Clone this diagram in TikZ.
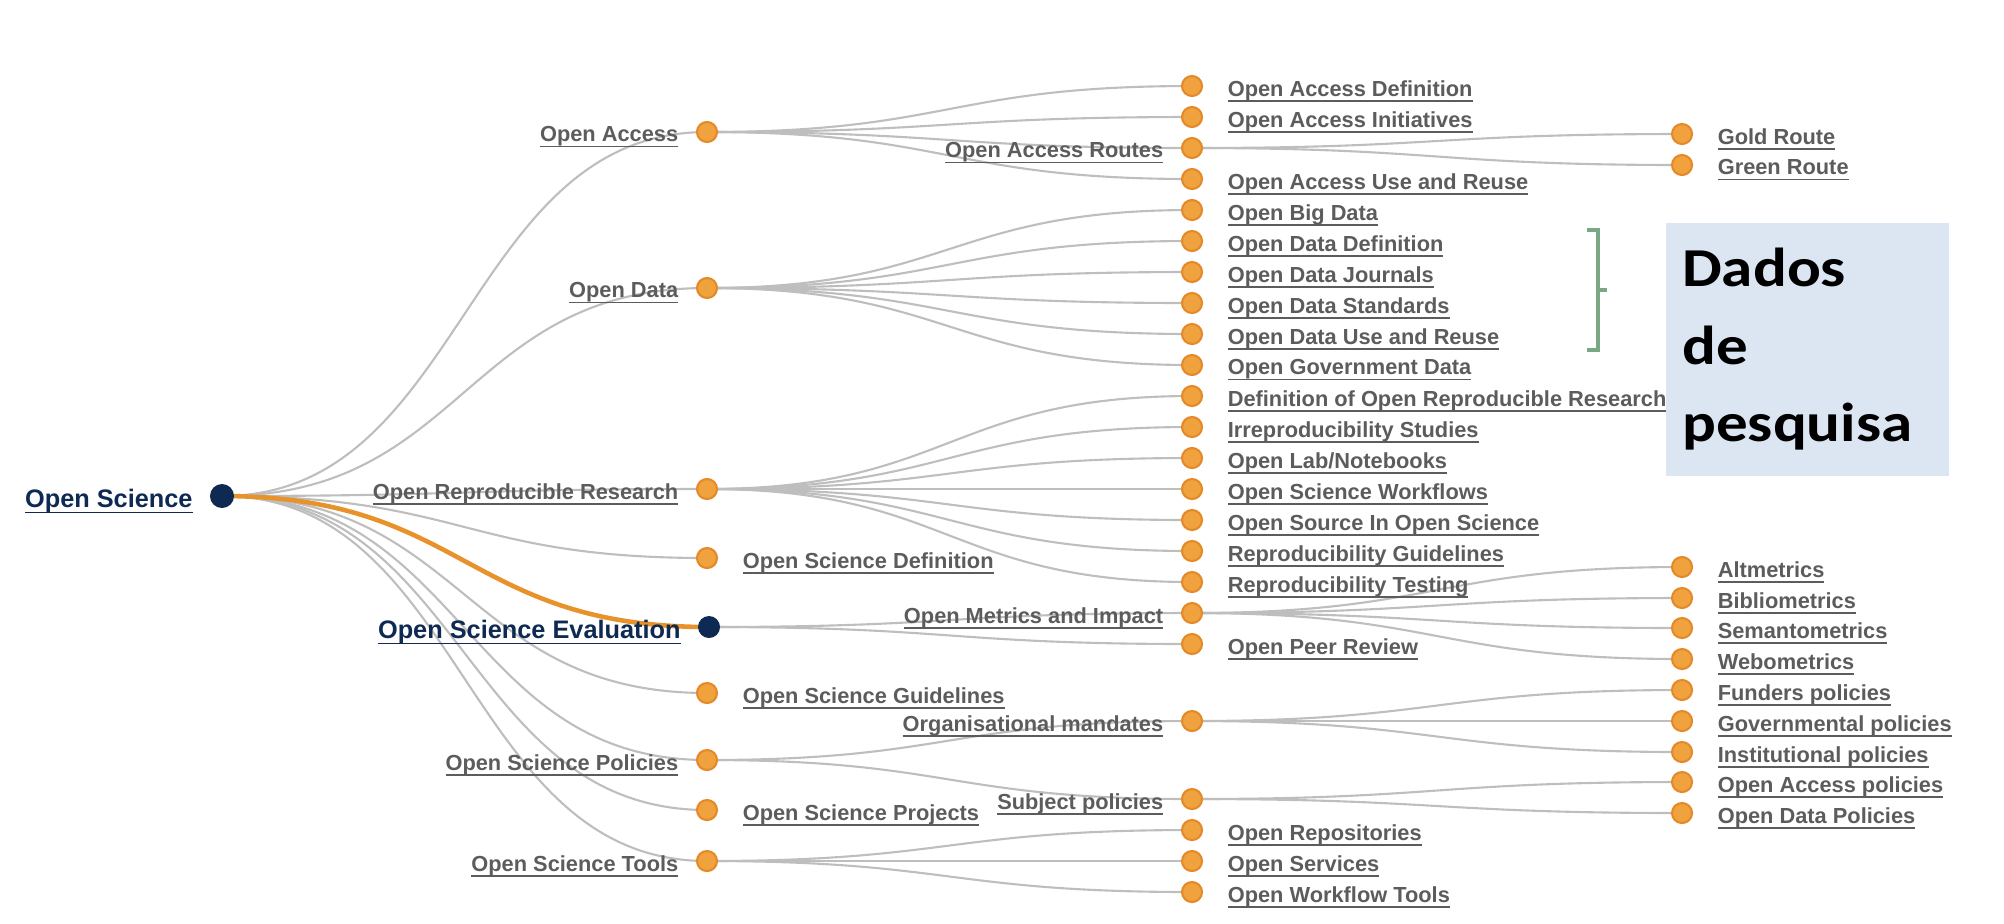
\documentclass[tikz,border=0pt]{standalone}
\usepackage{fontspec}
\setmainfont{Liberation Sans}
\newfontfamily\boxfont{Carlito}[FakeStretch=1.15]
\usetikzlibrary{calc,backgrounds}

\definecolor{navy}{RGB}{14,42,82}
\definecolor{nodeorange}{RGB}{240,162,62}
\definecolor{nodeedge}{RGB}{228,138,40}
\definecolor{linkgray}{RGB}{190,190,190}
\definecolor{hlorange}{RGB}{232,146,44}
\definecolor{textgray}{RGB}{92,92,92}
\definecolor{boxblue}{RGB}{220,230,242}
\definecolor{bracegreen}{RGB}{122,168,132}

% text with a rule just under the descenders
\newcommand\undertext[1]{\setbox0\hbox{#1}\rlap{\rule[-1.6pt]{\wd0}{0.4pt}}\box0}

\begin{document}
\begin{tikzpicture}[
  x=0.01cm, y=-0.01cm,
  lbl/.style={font=\bfseries\fontsize{6.2}{7}\selectfont, text=textgray, inner sep=0pt, yshift=-0.5mm},
  hubfont/.style={font=\bfseries\fontsize{7.2}{8}\selectfont, text=navy, inner sep=0pt, yshift=-0.5mm},
  leaf/.style={circle, fill=nodeorange, draw=nodeedge, line width=0.6pt, minimum size=2mm, inner sep=0pt},
  hub/.style={circle, fill=navy, minimum size=2.4mm, inner sep=0pt},
  txtright/.style={label={[lbl, label distance=2.4mm]right:\undertext{#1}}},
  txtleft/.style={label={[lbl, label distance=1.7mm]left:\undertext{#1}}},
  hubleft/.style={label={[hubfont, label distance=1.6mm]left:\undertext{#1}}},
  link/.style={draw=linkgray, line width=0.6pt,
    to path={let \p1=(\tikztostart), \p2=(\tikztotarget) in
      (\p1) .. controls ({(\x1+\x2)/2},\y1) and ({(\x1+\x2)/2},\y2) .. (\p2)}}
  ]
  \useasboundingbox (0,0) rectangle (2004,923);

  % root
  \node[hub, hubleft={Open Science}] (os) at (222,496) {};

  % first level
  \node[leaf, txtleft={Open Access}] (oa) at (707,132) {};
  \node[leaf, txtleft={Open Data}] (od) at (707,288) {};
  \node[leaf, txtleft={Open Reproducible Research}] (orr) at (707,489) {};
  \node[leaf, txtright={Open Science Definition}] (osd) at (707,558) {};
  \node[hub, minimum size=2.2mm, hubleft={Open Science Evaluation}] (ose) at (709,627) {};
  \node[leaf, txtright={Open Science Guidelines}] (osg) at (707,693) {};
  \node[leaf, txtleft={Open Science Policies}] (osp) at (707,760) {};
  \node[leaf, txtright={Open Science Projects}] (ospr) at (707,810) {};
  \node[leaf, txtleft={Open Science Tools}] (ost) at (707,861) {};

  % second level
  \node[leaf, txtright={Open Access Definition}] (oadef) at (1192,86) {};
  \node[leaf, txtright={Open Access Initiatives}] (oaini) at (1192,117) {};
  \node[leaf, txtleft={Open Access Routes}] (oar) at (1192,148) {};
  \node[leaf, txtright={Open Access Use and Reuse}] (oause) at (1192,179) {};
  \node[leaf, txtright={Open Big Data}] (obd) at (1192,210) {};
  \node[leaf, txtright={Open Data Definition}] (oddef) at (1192,241) {};
  \node[leaf, txtright={Open Data Journals}] (odj) at (1192,272) {};
  \node[leaf, txtright={Open Data Standards}] (ods) at (1192,303) {};
  \node[leaf, txtright={Open Data Use and Reuse}] (oduse) at (1192,334) {};
  \node[leaf, txtright={Open Government Data}] (ogd) at (1192,365) {};
  \node[leaf, txtright={Definition of Open Reproducible Research}] (dorr) at (1192,396) {};
  \node[leaf, txtright={Irreproducibility Studies}] (irs) at (1192,427) {};
  \node[leaf, txtright={Open Lab/Notebooks}] (olab) at (1192,458) {};
  \node[leaf, txtright={Open Science Workflows}] (osw) at (1192,489) {};
  \node[leaf, txtright={Open Source In Open Science}] (osos) at (1192,520) {};
  \node[leaf, txtright={Reproducibility Guidelines}] (rg) at (1192,551) {};
  \node[leaf, txtright={Reproducibility Testing}] (rt) at (1192,582) {};
  \node[leaf, txtleft={Open Metrics and Impact}] (omi) at (1192,613) {};
  \node[leaf, txtright={Open Peer Review}] (opr) at (1192,644) {};
  \node[leaf, txtleft={Organisational mandates}] (om) at (1192,721) {};
  \node[leaf, txtleft={Subject policies}] (sp) at (1192,799) {};
  \node[leaf, txtright={Open Repositories}] (orep) at (1192,830) {};
  \node[leaf, txtright={Open Services}] (oserv) at (1192,861) {};
  \node[leaf, txtright={Open Workflow Tools}] (owt) at (1192,892) {};

  % third level
  \node[leaf, txtright={Gold Route}] (gold) at (1682,134) {};
  \node[leaf, txtright={Green Route}] (green) at (1682,165) {};
  \node[leaf, txtright={Altmetrics}] (alt) at (1682,567) {};
  \node[leaf, txtright={Bibliometrics}] (bib) at (1682,598) {};
  \node[leaf, txtright={Semantometrics}] (sem) at (1682,628) {};
  \node[leaf, txtright={Webometrics}] (web) at (1682,659) {};
  \node[leaf, txtright={Funders policies}] (fund) at (1682,690) {};
  \node[leaf, txtright={Governmental policies}] (gov) at (1682,721) {};
  \node[leaf, txtright={Institutional policies}] (inst) at (1682,752) {};
  \node[leaf, txtright={Open Access policies}] (oapol) at (1682,782) {};
  \node[leaf, txtright={Open Data Policies}] (odpol) at (1682,813) {};

  % links
  \begin{scope}[on background layer]
    \path[link] (os) edge (oa) edge (od) edge (orr) edge (osd) edge (osg)
      edge (osp) edge (ospr) edge (ost);
    \path[link] (oa) edge (oadef) edge (oaini) edge (oar) edge (oause);
    \path[link] (oar) edge (gold) edge (green);
    \path[link] (od) edge (obd) edge (oddef) edge (odj) edge (ods) edge (oduse) edge (ogd);
    \path[link] (orr) edge (dorr) edge (irs) edge (olab) edge (osw) edge (osos)
      edge (rg) edge (rt);
    \path[link] (ose) edge (omi) edge (opr);
    \path[link] (omi) edge (alt) edge (bib) edge (sem) edge (web);
    \path[link] (osp) edge (om) edge (sp);
    \path[link] (om) edge (fund) edge (gov) edge (inst);
    \path[link] (sp) edge (oapol) edge (odpol);
    \path[link] (ost) edge (orep) edge (oserv) edge (owt);
    \draw[link, draw=hlorange, line width=1.3pt] (os) to (ose);
  \end{scope}

  % bracket and note
  \draw[bracegreen, line width=1.4pt] (1587,230) -- (1598,230) -- (1598,350) -- (1587,350)
    (1598,290) -- (1607,290);
  \node[fill=boxblue, anchor=north west, minimum width=2.83cm, minimum height=2.53cm,
    inner xsep=1.6mm, text width=2.5cm, align=left,
    font=\boxfont\bfseries\fontsize{15.6}{22}\selectfont] (dados) at (1665,222)
    {Dados\\de\\pesquisa};
\end{tikzpicture}
\end{document}
